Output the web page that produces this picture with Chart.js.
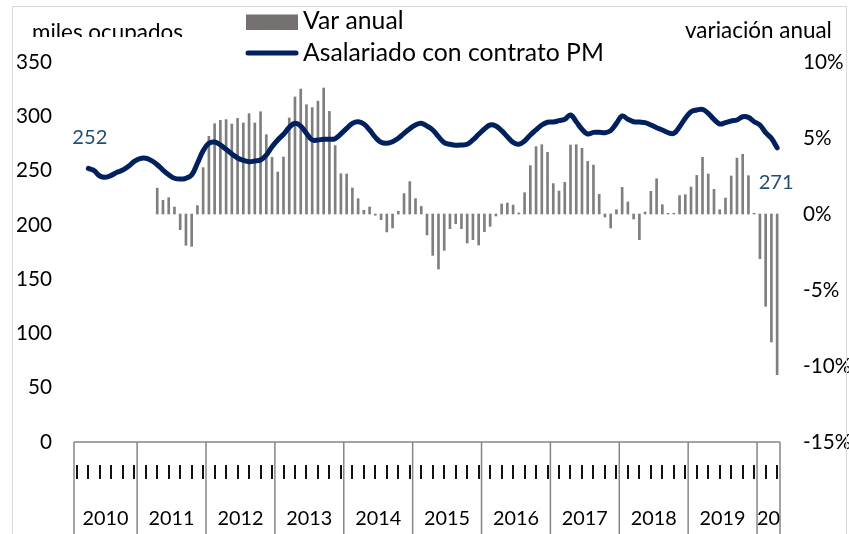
<!DOCTYPE html>
<html>
<head>
<meta charset="utf-8">
<script src="https://cdn.jsdelivr.net/npm/chart.js@4.4.1/dist/chart.umd.min.js"></script>
<style>
  html, body { margin: 0; padding: 0; background: #fff; }
  #wrap { position: relative; width: 849px; height: 534px; }
</style>
</head>
<body>
<div id="wrap"><canvas id="chart"></canvas></div>
<script>
// axis: feb-2010 .. abr-2020, grouped by year
const years = ['2010', '2011', '2012', '2013', '2014', '2015', '2016', '2017', '2018', '2019', '2020'];
const yearLabels = ['2010', '2011', '2012', '2013', '2014', '2015', '2016', '2017', '2018', '2019', '20'];
const monthsInYear = [11, 12, 12, 12, 12, 12, 12, 12, 12, 12, 4];
const monthNames = ['ene', 'feb', 'mar', 'abr', 'may', 'jun', 'jul', 'ago', 'sep', 'oct', 'nov', 'dic'];

// Asalariado con contrato PM (miles ocupados)
const asalariados = [
  null, null, 252, 249.9, 245, 243.8, 245.6, 248.4, 250.5, 253.9, 258.5,
  261, 261.3, 259.1, 255.4, 250.5, 246.2, 242.9, 242.2, 242.9, 245.9, 256.7, 268.3,
  275.1, 276.3, 273.6, 269.6, 265.3, 261.6, 259.5, 258.2, 258.8, 259.7, 264.3, 272,
  278.2, 283.4, 289.8, 293.5, 291, 284.3, 278.2, 278.2, 278.8, 278.8, 279.4, 283.7,
  288.9, 293.5, 295, 292.9, 287.4, 280.6, 276, 275.1, 276.6, 279.7, 284.3, 288.6,
  292, 293.5, 291, 287.4, 281.2, 275.7, 274.2, 273.3, 273.6, 274.2, 278.2, 283.4,
  288.3, 292, 291, 286.8, 281.2, 276, 274.2, 277.2, 282.8, 287.4, 292, 294.5,
  294.7, 296, 297.2, 301.2, 295, 288, 283.7, 285.2, 285.2, 284.9, 286.8, 293.5,
  300.3, 297.2, 295, 294.7, 294.1, 292, 289.5, 287.4, 284.9, 284.3, 290.4, 298.1,
  304.2, 305.8, 306.4, 302.7, 297.2, 292.9, 294.1, 295.7, 296.6, 299.6, 299, 295,
  292, 284.9, 279.7, 271
];

// Var anual (%)
const varAnual = [
  null, null, null, null, null, null, null, null, null, null, null,
  null, null, null, 1.7, 0.9, 1.07, 0.46, -1.03, -2.06, -2.13, 0.55, 3.05,
  5.11, 5.94, 6.16, 6.21, 5.92, 6.29, 5.99, 6.6, 5.99, 6.73, 5.22, 3.73,
  2.76, 3.75, 6.32, 7.7, 8.22, 7.19, 7.0, 7.43, 8.29, 6.75, 4.5, 2.65,
  2.63, 1.71, 1.01, 0.24, 0.46, -0.08, -0.37, -1.18, -0.92, 0.18, 1.34, 2.13,
  1.01, 0.5, -1.38, -2.72, -3.62, -2.39, -0.96, -0.64, -0.96, -1.91, -1.69, -2.04,
  -1.16, -0.81, -0.13, 0.66, 0.72, 0.59, 0.07, 1.4, 3.18, 4.43, 4.56, 4.06,
  2.0, 1.51, 2.08, 4.54, 4.56, 4.32, 3.46, 3.22, 1.29, -0.2, -0.92, 0.28,
  1.75, 0.79, -0.33, -1.69, 0.13, 1.49, 2.32, 0.61, 0.05, 0.05, 1.21, 1.27,
  1.78, 2.54, 3.73, 2.63, 1.62, 0.28, 1.05, 2.5, 3.68, 3.93, 2.52, 0.05,
  -2.94, -6.07, -8.42, -10.57
];

const FONT = 'Lato, "Open Sans", sans-serif';
const NAVY = '#002060';
const LABEL_BLUE = '#1F4E79';

const labels = [];
years.forEach((y, k) => {
  const first = k === 0 ? 1 : 0;
  for (let m = first; m < first + monthsInYear[k]; m++) labels.push(monthNames[m] + '-' + y.slice(2));
});

// font size so that a text gets a given width
const measure = document.createElement('canvas').getContext('2d');
function fitSize(text, width) {
  measure.font = '100px ' + FONT;
  return 100 * width / measure.measureText(text).width;
}
const tickSize = fitSize('350', 36);
const legendSize = fitSize('Asalariado con contrato PM', 301);
const yearSize = fitSize('2010', 46);

const decorations = {
  id: 'decorations',
  afterDatasetsDraw(chart) {
    const { ctx, chartArea, scales: { x } } = chart;
    ctx.save();

    // chart frame
    ctx.strokeStyle = '#D9D9D9';
    ctx.lineWidth = 1;
    ctx.strokeRect(12.5, 6.5, 834, 600);

    // axis titles
    ctx.fillStyle = '#000';
    ctx.textBaseline = 'alphabetic';
    ctx.textAlign = 'left';
    ctx.save();
    ctx.beginPath();
    ctx.rect(0, 0, 300, 37);
    ctx.clip();
    ctx.font = fitSize('miles ocupados', 151) + 'px ' + FONT;
    ctx.fillText('miles ocupados', 32, 40);
    ctx.restore();
    ctx.font = fitSize('variación anual', 147) + 'px ' + FONT;
    ctx.fillText('variación anual', 685, 38);

    // legend
    ctx.fillStyle = '#767171';
    ctx.fillRect(246, 14.5, 52, 15.5);
    ctx.strokeStyle = NAVY;
    ctx.lineWidth = 5;
    ctx.lineCap = 'round';
    ctx.beginPath();
    ctx.moveTo(248, 53);
    ctx.lineTo(296, 53);
    ctx.stroke();
    ctx.fillStyle = '#000';
    ctx.textBaseline = 'middle';
    ctx.font = legendSize + 'px ' + FONT;
    ctx.fillText('Var anual', 303, 21);
    ctx.fillText('Asalariado con contrato PM', 303, 53);

    // first / last values
    const meta = chart.getDatasetMeta(0);
    const firstIdx = asalariados.findIndex(v => v !== null);
    const lastIdx = asalariados.length - 1;
    ctx.fillStyle = LABEL_BLUE;
    ctx.textAlign = 'center';
    ctx.font = fitSize('252', 35) + 'px ' + FONT;
    ctx.fillText(String(Math.round(asalariados[firstIdx])), meta.data[firstIdx].x + 1.5, meta.data[firstIdx].y - 31);
    ctx.fillText(String(Math.round(asalariados[lastIdx])), meta.data[lastIdx].x - 1, meta.data[lastIdx].y + 35);

    // multi-level category axis
    const top = chartArea.bottom;
    const half = (x.getPixelForValue(1) - x.getPixelForValue(0)) / 2;
    ctx.strokeStyle = '#868686';
    ctx.lineWidth = 1.5;
    ctx.lineCap = 'butt';
    ctx.beginPath();
    ctx.moveTo(x.getPixelForValue(0) - half, top);
    ctx.lineTo(x.getPixelForValue(labels.length - 1) + half, top);
    ctx.stroke();

    const edges = [x.getPixelForValue(0) - half];
    let n = 0;
    monthsInYear.forEach(c => { n += c; edges.push(x.getPixelForValue(n - 1) + half); });
    ctx.beginPath();
    edges.forEach(e => { ctx.moveTo(e, top); ctx.lineTo(e, 540); });
    ctx.stroke();

    ctx.strokeStyle = '#111';
    ctx.lineWidth = 2;
    ctx.beginPath();
    for (let i = 0; i < labels.length; i += 2) {
      const px = Math.round(x.getPixelForValue(i));
      ctx.moveTo(px, top + 23);
      ctx.lineTo(px, top + 37);
    }
    ctx.stroke();

    ctx.fillStyle = '#000';
    ctx.textAlign = 'center';
    ctx.textBaseline = 'middle';
    ctx.font = yearSize + 'px ' + FONT;
    yearLabels.forEach((t, k) => ctx.fillText(t, (edges[k] + edges[k + 1]) / 2, top + 77));

    ctx.restore();
  }
};

new Chart(document.getElementById('chart'), {
  data: {
    labels: labels,
    datasets: [
      {
        type: 'line',
        label: 'Asalariado con contrato PM',
        data: asalariados,
        yAxisID: 'y',
        borderColor: NAVY,
        borderWidth: 5,
        borderCapStyle: 'round',
        borderJoinStyle: 'round',
        pointRadius: 0,
        tension: 0.4,
        order: 0
      },
      {
        type: 'bar',
        label: 'Var anual',
        data: varAnual,
        yAxisID: 'y1',
        backgroundColor: '#7F7F7F',
        barThickness: 2,
        order: 1
      }
    ]
  },
  options: {
    responsive: true,
    maintainAspectRatio: false,
    animation: false,
    layout: { padding: { top: 62, left: 0, right: 0, bottom: 0 } },
    plugins: {
      legend: { display: false },
      tooltip: { enabled: false }
    },
    scales: {
      x: {
        type: 'category',
        offset: true,
        grid: { display: false, drawTicks: false },
        border: { display: false },
        ticks: { display: false },
        afterFit: s => { s.height = 92; }
      },
      y: {
        position: 'left',
        min: 0,
        max: 350,
        grid: { display: false, drawTicks: false },
        border: { display: false },
        ticks: {
          stepSize: 50,
          padding: 22,
          color: '#000',
          font: { family: FONT, size: tickSize }
        },
        afterFit: s => { s.width = 74; }
      },
      y1: {
        position: 'right',
        min: -15,
        max: 10,
        grid: { display: false, drawTicks: false },
        border: { display: false },
        ticks: {
          stepSize: 5,
          padding: 23,
          color: '#000',
          font: { family: FONT, size: tickSize },
          callback: v => v + '%'
        },
        afterFit: s => { s.width = 69; }
      }
    }
  },
  plugins: [decorations]
});
</script>
</body>
</html>
